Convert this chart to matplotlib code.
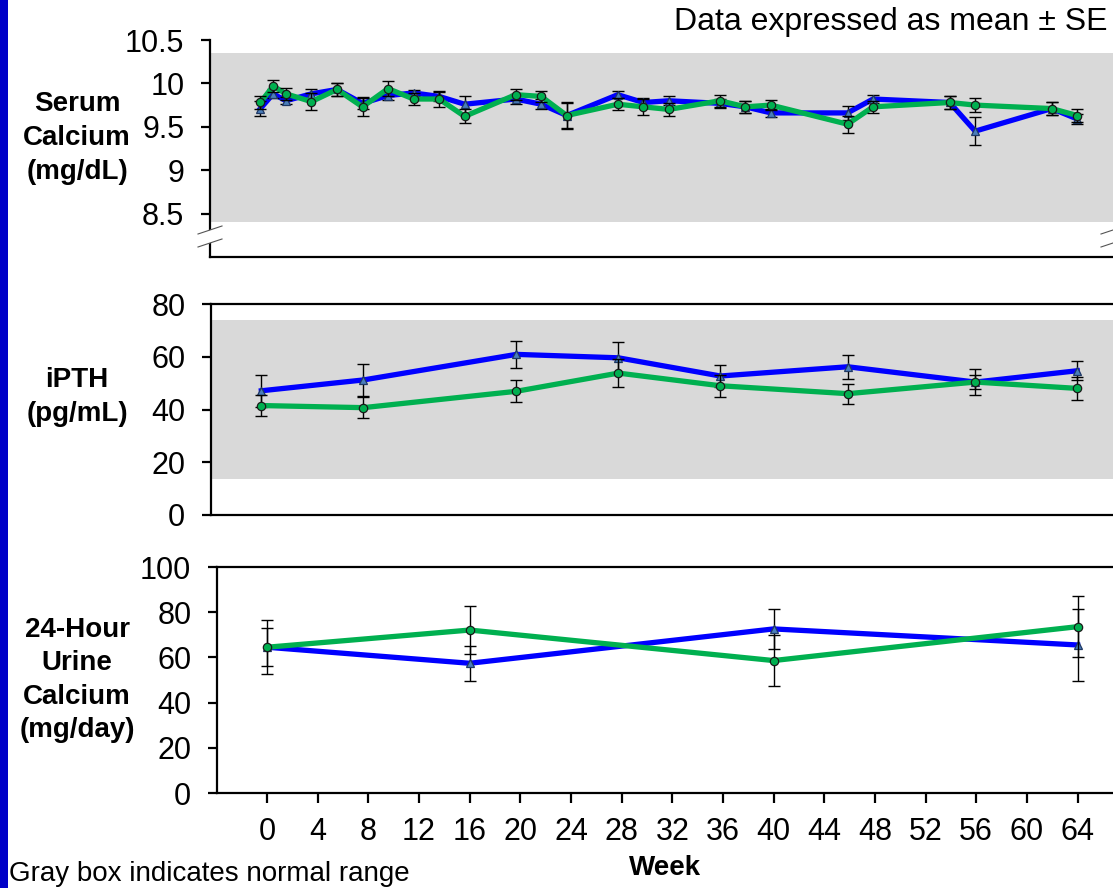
import matplotlib
matplotlib.use("Agg")
import matplotlib.pyplot as plt
from matplotlib.lines import Line2D
from matplotlib.patches import Rectangle, Polygon

plt.rcParams['font.family'] = ['Liberation Sans', 'DejaVu Sans']

# serum calcium (mg/dL)
ca_weeks = [0, 1, 2, 4, 6, 8, 10, 12, 14, 16, 20, 22, 24, 28, 30, 32, 36, 38, 40, 46, 48, 54, 56, 62, 64]
ca_blue = [9.71, 9.88, 9.80, 9.88, 9.93, 9.77, 9.86, 9.89, 9.85, 9.76, 9.82, 9.76, 9.63,
           9.87, 9.78, 9.80, 9.77, 9.73, 9.66, 9.66, 9.82, 9.78, 9.45, 9.71, 9.59]
ca_blue_se = [0.09, 0.05, 0.04, 0.05, 0.08, 0.07, 0.05, 0.03, 0.05, 0.10, 0.06, 0.06, 0.16,
              0.04, 0.05, 0.05, 0.05, 0.07, 0.05, 0.08, 0.05, 0.07, 0.16, 0.07, 0.06]
ca_green = [9.78, 9.97, 9.88, 9.79, 9.93, 9.73, 9.94, 9.82, 9.82, 9.62, 9.87, 9.85, 9.63,
            9.76, 9.73, 9.70, 9.80, 9.73, 9.75, 9.53, 9.73, 9.78, 9.75, 9.71, 9.63]
ca_green_se = [0.08, 0.07, 0.07, 0.10, 0.08, 0.10, 0.09, 0.07, 0.09, 0.08, 0.06, 0.06, 0.14,
               0.07, 0.09, 0.07, 0.07, 0.07, 0.06, 0.10, 0.07, 0.07, 0.08, 0.07, 0.07]
ca_normal = (8.4, 10.35)

# iPTH (pg/mL)
pth_weeks = [0, 8, 20, 28, 36, 46, 56, 64]
pth_blue = [47.1, 51.2, 60.9, 59.6, 52.7, 56.2, 50.4, 54.7]
pth_blue_se = [6.0, 6.2, 5.0, 5.9, 4.0, 4.5, 2.5, 3.6]
pth_green = [41.5, 40.7, 46.9, 53.8, 49.0, 46.0, 50.4, 48.0]
pth_green_se = [4.0, 4.0, 4.1, 5.3, 4.1, 3.8, 5.0, 4.3]
pth_normal = (13.6, 73.9)

# 24-hour urine calcium (mg/day)
urine_weeks = [0, 16, 40, 64]
urine_blue = [64.5, 57.4, 72.6, 65.5]
urine_blue_se = [12.0, 7.7, 8.8, 16.0]
urine_green = [64.5, 72.1, 58.6, 73.6]
urine_green_se = [8.5, 10.5, 11.1, 13.6]

week_ticks = list(range(0, 65, 4))

W, H = 1113, 888
fig = plt.figure(figsize=(W / 100, H / 100), dpi=100)


def px_rect(left, top, right, bottom):
    return [left / W, 1 - bottom / H, (right - left) / W, (bottom - top) / H]


def px(x, y):
    return x / W, 1 - y / H


BLUE = '#0000FF'
GREEN = '#00B050'
GRAY = '#D9D9D9'
FS = 22


def draw_series(ax, x, y, se, color, marker, mfc, mec, z):
    ax.plot(x, y, color=color, lw=3.8, zorder=z, solid_joinstyle='round')
    ax.errorbar(x, y, yerr=se, fmt='none', ecolor='black', elinewidth=1.0,
                capsize=4, capthick=1.0, zorder=z + 0.5)
    ax.plot(x, y, ls='none', marker=marker, ms=6,
            mfc=mfc, mec=mec, mew=0.9, zorder=z + 0.6)


def style(ax):
    ax.spines['right'].set_visible(False)
    for s in ('left', 'bottom', 'top'):
        ax.spines[s].set_linewidth(1.6)
    ax.tick_params(axis='y', direction='out', length=6.5, width=1.6, labelsize=FS, pad=12)
    ax.set_xlim(-3.95, 66.8)


# top panel
ax1 = fig.add_axes(px_rect(210, 40, 1113, 257))
ax1.axhspan(ca_normal[0], ca_normal[1], color=GRAY, lw=0, zorder=0)
draw_series(ax1, ca_weeks, ca_blue, ca_blue_se, BLUE, '^', '#4A7EBB', '#1F3864', 2)
draw_series(ax1, ca_weeks, ca_green, ca_green_se, GREEN, 'o', GREEN, '#1A1A1A', 3)
style(ax1)
ax1.spines['top'].set_visible(False)
ax1.set_ylim(8.0, 10.5)
ax1.set_yticks([8.5, 9, 9.5, 10, 10.5])
ax1.set_yticklabels(['8.5', '9', '9.5', '10', '10.5'])
ax1.set_xticks([])

# middle panel
ax2 = fig.add_axes(px_rect(211, 304, 1113, 515))
ax2.axhspan(pth_normal[0], pth_normal[1], color=GRAY, lw=0, zorder=0)
draw_series(ax2, pth_weeks, pth_blue, pth_blue_se, BLUE, '^', '#4A7EBB', '#1F3864', 2)
draw_series(ax2, pth_weeks, pth_green, pth_green_se, GREEN, 'o', GREEN, '#1A1A1A', 3)
style(ax2)
ax2.set_ylim(0, 80)
ax2.set_yticks([0, 20, 40, 60, 80])
ax2.set_xticks([])

# bottom panel
ax3 = fig.add_axes(px_rect(217, 567, 1113, 793))
draw_series(ax3, urine_weeks, urine_blue, urine_blue_se, BLUE, '^', '#4A7EBB', '#1F3864', 2)
draw_series(ax3, urine_weeks, urine_green, urine_green_se, GREEN, 'o', GREEN, '#1A1A1A', 3)
style(ax3)
ax3.set_ylim(0, 100)
ax3.set_yticks([0, 20, 40, 60, 80, 100])
ax3.set_xticks(week_ticks)
ax3.tick_params(axis='x', direction='out', length=7.5, width=1.6, labelsize=FS, pad=10)

# axis break marks on the top panel
for xs in [(198, 222), (1101, 1125)]:
    gap = Polygon([px(xs[0], 234), px(xs[1], 226), px(xs[1], 239), px(xs[0], 247)],
                  closed=True, facecolor='white', edgecolor='none',
                  transform=fig.transFigure, zorder=5)
    fig.add_artist(gap)
    for y0, y1 in [(234, 226), (247, 239)]:
        (x0, yy0), (x1, yy1) = px(xs[0], y0), px(xs[1], y1)
        fig.add_artist(Line2D([x0, x1], [yy0, yy1], color='#555555', lw=0.8,
                              transform=fig.transFigure, zorder=6))

# left blue bar
fig.add_artist(Rectangle((0, 0), 8 / W, 1, transform=fig.transFigure,
                         facecolor='#0000C8', edgecolor='none', zorder=10))

# labels
lab = dict(ha='center', va='center', fontsize=20, fontweight='bold', linespacing=1.38)
fig.text(*px(77, 138), 'Serum\nCalcium\n(mg/dL)', **lab)
fig.text(*px(77, 397), 'iPTH\n(pg/mL)', **lab)
fig.text(*px(77, 680), '24-Hour\nUrine\nCalcium\n(mg/day)', **lab)
fig.text(*px(1108, 22), 'Data expressed as mean \u00b1 SE', ha='right', va='center', fontsize=23)
fig.text(*px(665, 868), 'Week', ha='center', va='center', fontsize=20, fontweight='bold')
fig.text(*px(9, 874), 'Gray box indicates normal range', ha='left', va='center', fontsize=20)

fig.savefig('out.png', dpi=100)
